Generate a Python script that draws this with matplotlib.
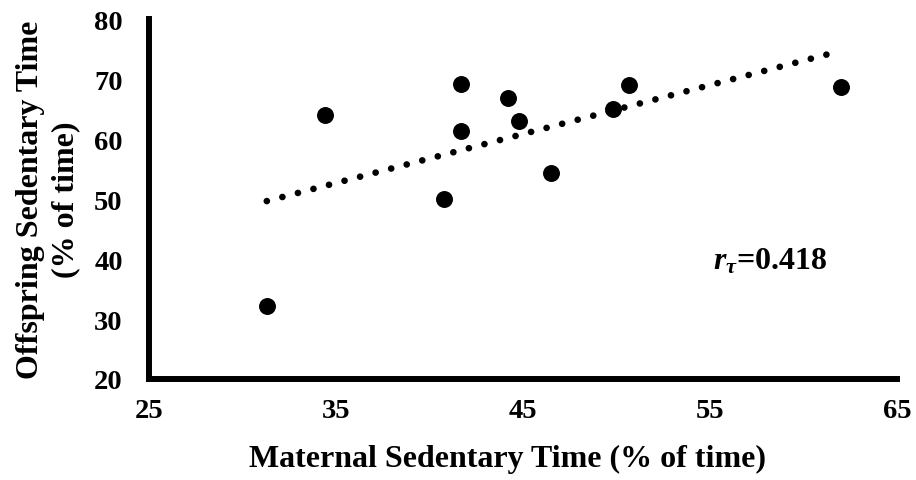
"""Maternal vs offspring sedentary time scatter with linear trend."""

import numpy as np
import matplotlib
matplotlib.use("Agg")
import matplotlib.pyplot as plt

maternal = [31.3, 34.4, 40.8, 41.7, 41.7, 44.2, 44.8, 46.5, 49.8, 50.7, 62.0]
offspring = [32.2, 64.0, 50.0, 69.2, 61.3, 66.8, 63.0, 54.3, 65.0, 69.0, 68.7]
x_ticks = [25, 35, 45, 55, 65]
y_ticks = [20, 30, 40, 50, 60, 70, 80]
r_label = r"$r_\tau$=0.418"

plt.rcParams["font.family"] = "Liberation Serif"
plt.rcParams["font.weight"] = "bold"
plt.rcParams["mathtext.fontset"] = "custom"
plt.rcParams["mathtext.rm"] = "Liberation Serif:bold"
plt.rcParams["mathtext.it"] = "Liberation Serif:italic:bold"
plt.rcParams["mathtext.bf"] = "Liberation Serif:bold"

x = np.array(maternal)
y = np.array(offspring)

fig = plt.figure(figsize=(9.16, 4.81), dpi=100)
ax = fig.add_axes([0.1627, 0.21, 0.979 - 0.1627, 0.958 - 0.21])

# linear trend line (dotted, round dots)
slope, intercept = np.polyfit(x, y, 1)
xs = np.array([x.min(), x.max()])
ax.plot(xs, slope * xs + intercept, color="black", lw=4.8,
        linestyle=(0, (0.01, 2.4)), dash_capstyle="round", zorder=2)

ax.scatter(x, y, s=125, color="black", zorder=3, clip_on=False)

ax.set_xlim(25, 65)
ax.set_ylim(20, 80)
ax.set_xticks(x_ticks)
ax.set_yticks(y_ticks)
ax.tick_params(length=0, labelsize=20.5)
ax.tick_params(axis="y", pad=19)
ax.tick_params(axis="x", pad=14)

for side in ("top", "right"):
    ax.spines[side].set_visible(False)
for side in ("left", "bottom"):
    ax.spines[side].set_linewidth(4.3)
    ax.spines[side].set_capstyle("projecting")

ax.set_xlabel("Maternal Sedentary Time (% of time)", fontsize=23,
              fontweight="bold", labelpad=15)
ax.xaxis.label.set_x(0.48)
ax.set_ylabel("Offspring Sedentary Time\n(% of time)", fontsize=23,
              fontweight="bold", labelpad=10, linespacing=1.3)

ax.text(0.754, 0.306, r_label, transform=ax.transAxes, fontsize=23,
        fontweight="bold", ha="left", va="baseline")

fig.savefig("out.png", dpi=100)
